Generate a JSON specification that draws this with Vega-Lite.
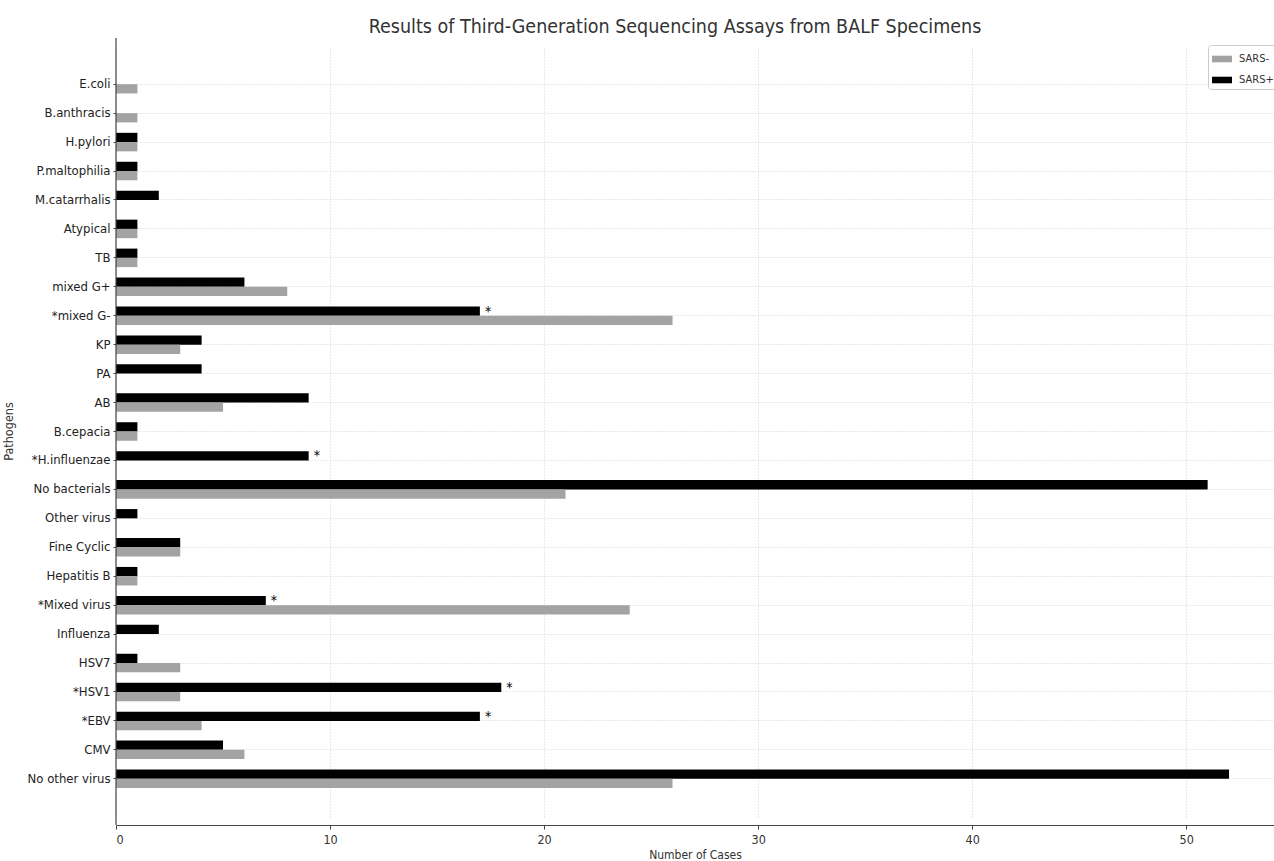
{
  "$schema": "https://vega.github.io/schema/vega-lite/v6.json",
  "width": 1158,
  "height": 787,
  "autosize": {"type": "none"},
  "padding": {"left": 116, "top": 38, "right": 0, "bottom": 36},
  "title": {"text": "Results of Third-Generation Sequencing Assays from BALF Specimens", "fontSize": 19.5, "font": "DejaVu Sans Condensed, DejaVu Sans", "fontWeight": "normal", "color": "#333333", "offset": 0, "dx": -20},
  "config": {
    "view": {"stroke": null},
    "font": "DejaVu Sans Condensed, DejaVu Sans"
  },
  "data": {"values": [
    {"Pathogen": "E.coli", "Group": "SARS+", "Cases": 0, "Star": ""},
    {"Pathogen": "E.coli", "Group": "SARS-", "Cases": 1, "Star": ""},
    {"Pathogen": "B.anthracis", "Group": "SARS+", "Cases": 0, "Star": ""},
    {"Pathogen": "B.anthracis", "Group": "SARS-", "Cases": 1, "Star": ""},
    {"Pathogen": "H.pylori", "Group": "SARS+", "Cases": 1, "Star": ""},
    {"Pathogen": "H.pylori", "Group": "SARS-", "Cases": 1, "Star": ""},
    {"Pathogen": "P.maltophilia", "Group": "SARS+", "Cases": 1, "Star": ""},
    {"Pathogen": "P.maltophilia", "Group": "SARS-", "Cases": 1, "Star": ""},
    {"Pathogen": "M.catarrhalis", "Group": "SARS+", "Cases": 2, "Star": ""},
    {"Pathogen": "M.catarrhalis", "Group": "SARS-", "Cases": 0, "Star": ""},
    {"Pathogen": "Atypical", "Group": "SARS+", "Cases": 1, "Star": ""},
    {"Pathogen": "Atypical", "Group": "SARS-", "Cases": 1, "Star": ""},
    {"Pathogen": "TB", "Group": "SARS+", "Cases": 1, "Star": ""},
    {"Pathogen": "TB", "Group": "SARS-", "Cases": 1, "Star": ""},
    {"Pathogen": "mixed G+", "Group": "SARS+", "Cases": 6, "Star": ""},
    {"Pathogen": "mixed G+", "Group": "SARS-", "Cases": 8, "Star": ""},
    {"Pathogen": "*mixed G-", "Group": "SARS+", "Cases": 17, "Star": "*"},
    {"Pathogen": "*mixed G-", "Group": "SARS-", "Cases": 26, "Star": ""},
    {"Pathogen": "KP", "Group": "SARS+", "Cases": 4, "Star": ""},
    {"Pathogen": "KP", "Group": "SARS-", "Cases": 3, "Star": ""},
    {"Pathogen": "PA", "Group": "SARS+", "Cases": 4, "Star": ""},
    {"Pathogen": "PA", "Group": "SARS-", "Cases": 0, "Star": ""},
    {"Pathogen": "AB", "Group": "SARS+", "Cases": 9, "Star": ""},
    {"Pathogen": "AB", "Group": "SARS-", "Cases": 5, "Star": ""},
    {"Pathogen": "B.cepacia", "Group": "SARS+", "Cases": 1, "Star": ""},
    {"Pathogen": "B.cepacia", "Group": "SARS-", "Cases": 1, "Star": ""},
    {"Pathogen": "*H.influenzae", "Group": "SARS+", "Cases": 9, "Star": "*"},
    {"Pathogen": "*H.influenzae", "Group": "SARS-", "Cases": 0, "Star": ""},
    {"Pathogen": "No bacterials", "Group": "SARS+", "Cases": 51, "Star": ""},
    {"Pathogen": "No bacterials", "Group": "SARS-", "Cases": 21, "Star": ""},
    {"Pathogen": "Other virus", "Group": "SARS+", "Cases": 1, "Star": ""},
    {"Pathogen": "Other virus", "Group": "SARS-", "Cases": 0, "Star": ""},
    {"Pathogen": "Fine Cyclic", "Group": "SARS+", "Cases": 3, "Star": ""},
    {"Pathogen": "Fine Cyclic", "Group": "SARS-", "Cases": 3, "Star": ""},
    {"Pathogen": "Hepatitis B", "Group": "SARS+", "Cases": 1, "Star": ""},
    {"Pathogen": "Hepatitis B", "Group": "SARS-", "Cases": 1, "Star": ""},
    {"Pathogen": "*Mixed virus", "Group": "SARS+", "Cases": 7, "Star": "*"},
    {"Pathogen": "*Mixed virus", "Group": "SARS-", "Cases": 24, "Star": ""},
    {"Pathogen": "Influenza", "Group": "SARS+", "Cases": 2, "Star": ""},
    {"Pathogen": "Influenza", "Group": "SARS-", "Cases": 0, "Star": ""},
    {"Pathogen": "HSV7", "Group": "SARS+", "Cases": 1, "Star": ""},
    {"Pathogen": "HSV7", "Group": "SARS-", "Cases": 3, "Star": ""},
    {"Pathogen": "*HSV1", "Group": "SARS+", "Cases": 18, "Star": "*"},
    {"Pathogen": "*HSV1", "Group": "SARS-", "Cases": 3, "Star": ""},
    {"Pathogen": "*EBV", "Group": "SARS+", "Cases": 17, "Star": "*"},
    {"Pathogen": "*EBV", "Group": "SARS-", "Cases": 4, "Star": ""},
    {"Pathogen": "CMV", "Group": "SARS+", "Cases": 5, "Star": ""},
    {"Pathogen": "CMV", "Group": "SARS-", "Cases": 6, "Star": ""},
    {"Pathogen": "No other virus", "Group": "SARS+", "Cases": 52, "Star": ""},
    {"Pathogen": "No other virus", "Group": "SARS-", "Cases": 26, "Star": ""}
  ]},
  "layer": [
    {
      "mark": {"type": "bar"},
      "encoding": {
        "y": {
          "field": "Pathogen", "type": "nominal",
          "sort": ["E.coli", "B.anthracis", "H.pylori", "P.maltophilia", "M.catarrhalis", "Atypical", "TB", "mixed G+", "*mixed G-", "KP", "PA", "AB", "B.cepacia", "*H.influenzae", "No bacterials", "Other virus", "Fine Cyclic", "Hepatitis B", "*Mixed virus", "Influenza", "HSV7", "*HSV1", "*EBV", "CMV", "No other virus"],
          "scale": {"paddingInner": 0.36, "paddingOuter": 1, "range": [8, 779]},
          "axis": {
            "title": "Pathogens", "titleFontSize": 12.5, "titleFontWeight": "normal", "titleColor": "#333333", "titleX": -101, "titleY": 393,
            "labelFontSize": 13, "labelColor": "#222222", "labelPadding": 3,
            "tickSize": 3, "tickColor": "#444444", "domain": false,
            "grid": true, "gridDash": [1, 2], "gridColor": "#c8c8c8", "gridWidth": 0.8
          }
        },
        "x": {
          "field": "Cases", "type": "quantitative",
          "scale": {"domain": [0, 54.1], "nice": false},
          "axis": {
            "title": "Number of Cases", "titleFontSize": 12, "titleFontWeight": "normal", "titleColor": "#333333", "titlePadding": 4,
            "values": [0, 10, 20, 30, 40, 50], "format": "d",
            "labelFontSize": 12.5, "labelColor": "#333333", "labelPadding": 4,
            "tickSize": 4, "tickColor": "#444444", "domainColor": "#444444", "domainWidth": 1.2,
            "grid": true, "gridDash": [1, 2], "gridColor": "#c8c8c8", "gridWidth": 0.8
          }
        },
        "yOffset": {"field": "Group", "type": "nominal", "sort": ["SARS+", "SARS-"]},
        "color": {
          "field": "Group", "type": "nominal",
          "scale": {"domain": ["SARS-", "SARS+"], "range": ["#a3a3a3", "#000000"]},
          "legend": {
            "title": null, "orient": "none", "legendX": 1092, "legendY": 7,
            "labelFontSize": 11, "labelColor": "#333333", "labelOffset": 7,
            "symbolType": "M-1,-0.33H1V0.33H-1Z", "symbolSize": 400, "symbolStrokeWidth": 0,
            "strokeColor": "#cccccc", "fillColor": "#ffffff", "cornerRadius": 3, "padding": 4, "rowPadding": 6
          }
        }
      }
    },
    {
      "transform": [{"filter": "datum.Star == '*'"}],
      "mark": {"type": "text", "align": "left", "baseline": "middle", "dx": 5, "dy": -4, "fontSize": 14, "fill": "#000000"},
      "encoding": {
        "y": {"field": "Pathogen", "type": "nominal", "sort": ["E.coli", "B.anthracis", "H.pylori", "P.maltophilia", "M.catarrhalis", "Atypical", "TB", "mixed G+", "*mixed G-", "KP", "PA", "AB", "B.cepacia", "*H.influenzae", "No bacterials", "Other virus", "Fine Cyclic", "Hepatitis B", "*Mixed virus", "Influenza", "HSV7", "*HSV1", "*EBV", "CMV", "No other virus"]},
        "x": {"field": "Cases", "type": "quantitative"},
        "text": {"field": "Star"}
      }
    },
    {
      "data": {"values": [{"Cases": 0}]},
      "mark": {"type": "rule", "color": "#444444", "strokeWidth": 1.2},
      "encoding": {"x": {"field": "Cases", "type": "quantitative"}}
    }
  ]
}
